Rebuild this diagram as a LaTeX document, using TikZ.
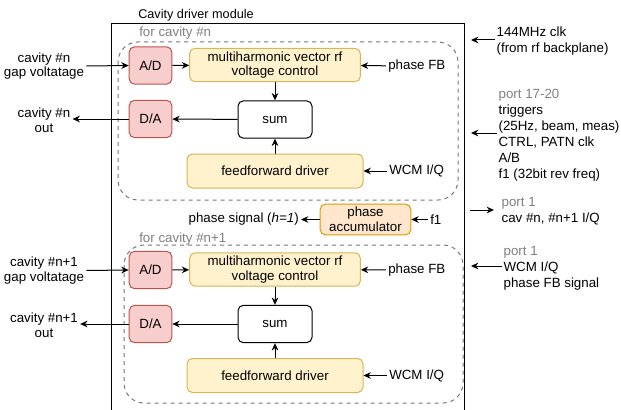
\documentclass[tikz,border=0pt]{standalone}
\usepackage{fontspec}
\setmainfont{Liberation Sans}
\usepackage{xcolor}
\usepackage{tikz}
\usetikzlibrary{positioning,arrows.meta,calc}
\definecolor{convfill}{HTML}{F8CECC}
\definecolor{convborder}{HTML}{B85450}
\definecolor{ctrlfill}{HTML}{FFF2CC}
\definecolor{ctrlborder}{HTML}{D6B656}
\definecolor{accfill}{HTML}{FFE6CC}
\definecolor{accborder}{HTML}{D79B00}
\definecolor{grpgray}{HTML}{777777}
\definecolor{portgray}{HTML}{808080}
\tikzset{
  blk/.style={draw, rounded corners=4pt, line width=0.75pt, align=center,
              font=\fontsize{10}{11}\selectfont, inner sep=1pt},
  conv/.style={blk, draw=convborder, fill=convfill, minimum width=32pt, minimum height=28pt},
  ctrl/.style={blk, draw=ctrlborder, fill=ctrlfill, minimum width=128pt, minimum height=25pt},
  ffbox/.style={ctrl, minimum width=132pt, minimum height=25.5pt},
  sumbox/.style={blk, draw=black, fill=white, minimum width=55.5pt, minimum height=28pt},
  accbox/.style={blk, draw=accborder, fill=accfill, minimum width=68pt, minimum height=23pt},
  txt/.style={font=\fontsize{10}{11}\selectfont, align=center, inner sep=1.5pt},
  rtxt/.style={font=\fontsize{10}{12}\selectfont, align=left, anchor=west, inner sep=1pt},
  grp/.style={draw=grpgray, dash pattern=on 3pt off 3pt, rounded corners=15pt, line width=0.75pt},
  grplbl/.style={font=\fontsize{10}{11}\selectfont, text=portgray, anchor=west, inner sep=0pt},
  sig/.style={-{Stealth[length=5.5pt,width=5pt]}, line width=0.75pt}
}

\begin{document}
\begin{tikzpicture}[x=0.75pt, y=-0.75pt]
\useasboundingbox (0,0) rectangle (621,410);
% module frame
\draw[line width=0.75pt] (111,410) -- (111,24) -- (464,24) -- (464,410);
\node[txt, font=\fontsize{9.5}{11}\selectfont] (title) at (196,15) {Cavity driver module};
% cavity #n
\draw[grp] (118,42) rectangle (458,200);
\node[grplbl] (grpAl) at (139,33) {for cavity \#n};
\node[conv] (adA) at (150.5,65.5) {A/D};
\node[conv] (daA) at (150.5,119) {D/A};
\node[ctrl] (mhA) at (275,65) {multiharmonic vector rf\\voltage control};
\node[sumbox] (sumA) at (275,119.5) {sum};
\node[ffbox] (ffA) at (275,171) {feedforward driver};
\node[txt] (gapA) at (44,66) {cavity \#n\\gap voltatage};
\node[txt] (outA) at (44,120) {cavity \#n\\out};
\node[txt, anchor=west] (fbA) at (386,66) {phase FB};
\node[txt, anchor=west] (wcmA) at (387,171) {WCM I/Q};
\draw[sig] (gapA.east) -- (adA.west);
\draw[sig] (adA) -- (mhA);
\draw[sig] (fbA) -- (mhA);
\draw[sig] (mhA) -- (sumA);
\draw[sig] (ffA) -- (sumA);
\draw[sig] (wcmA) -- (ffA);
\draw[sig] (sumA) -- (daA);
\draw[sig] (daA.west) -- (outA.east |- daA.west);
% phase accumulator
\node[accbox] (acc) at (365.5,219.5) {phase\\accumulator};
\node[txt, anchor=west] (f1) at (428,219.5) {f1};
\node[txt, anchor=east] (phs) at (301,219.5) {phase signal (\textit{h=1})};
\draw[sig] (f1) -- (acc);
\draw[sig] (acc) -- (phs);
% cavity #n+1
\draw[grp] (124,245) rectangle (463,403);
\node[grplbl] (grpBl) at (139,239) {for cavity \#n+1};
\node[conv] (adB) at (150.5,270) {A/D};
\node[conv] (daB) at (150.5,324) {D/A};
\node[ctrl] (mhB) at (275,269.5) {multiharmonic vector rf\\voltage control};
\node[sumbox] (sumB) at (275,324) {sum};
\node[ffbox] (ffB) at (275,375.5) {feedforward driver};
\node[txt] (gapB) at (44,270.5) {cavity \#n+1\\gap voltatage};
\node[txt] (outB) at (44,325) {cavity \#n+1\\out};
\node[txt, anchor=west] (fbB) at (386,270) {phase FB};
\node[txt, anchor=west] (wcmB) at (387,375.5) {WCM I/Q};
\draw[sig] (gapB.east) -- (adB.west);
\draw[sig] (adB) -- (mhB);
\draw[sig] (fbB) -- (mhB);
\draw[sig] (mhB) -- (sumB);
\draw[sig] (ffB) -- (sumB);
\draw[sig] (wcmB) -- (ffB);
\draw[sig] (sumB) -- (daB);
\draw[sig] (daB.west) -- (outB.east |- daB.west);
% ports on the right
\node[rtxt] (clk) at (495,41) {144MHz clk\\(from rf backplane)};
\node[rtxt] (trig) at (497,135) {\textcolor{portgray}{port 17-20}\\triggers\\(25Hz, beam, meas)\\CTRL, PATN clk\\A/B\\f1 (32bit rev freq)};
\node[rtxt] (iq) at (500,211.5) {\textcolor{portgray}{port 1}\\cav \#n, \#n+1 I/Q};
\node[rtxt] (wcm) at (502,268.5) {\textcolor{portgray}{port 1}\\WCM I/Q\\phase FB signal};
\coordinate (clkin) at (471,40);
\coordinate (trigin) at (471,133);
\coordinate (iqout) at (470,210);
\coordinate (wcmin) at (471,266);
\draw[sig] (clkin -| clk.west) -- (clkin);
\draw[sig] (trigin -| trig.west) -- (trigin);
\draw[sig] (iqout) -- (494,210);
\draw[sig] (wcmin -| wcm.west) -- (wcmin);
\end{tikzpicture}
\end{document}
